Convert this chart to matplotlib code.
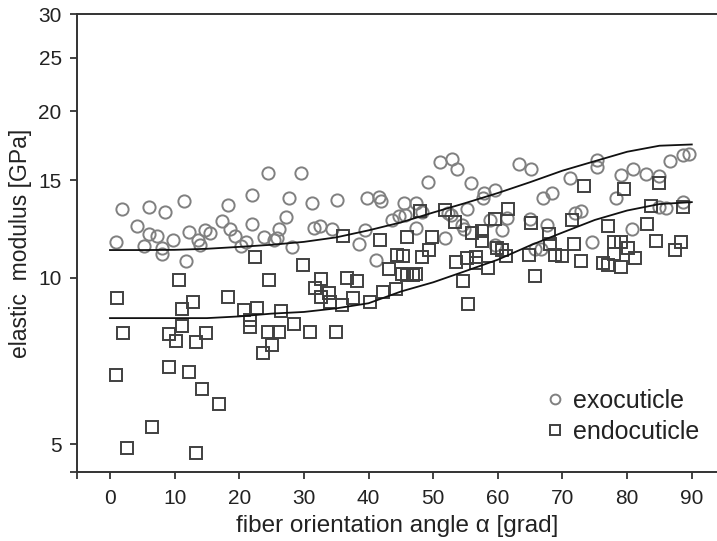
import matplotlib
matplotlib.use("Agg")
import matplotlib.pyplot as plt
from matplotlib.ticker import FixedLocator, FixedFormatter

plt.rcParams['font.family'] = ['Liberation Sans', 'DejaVu Sans']

# DATA
exo_angle = [0.9, 1.8, 4.2, 5.3, 6.1, 6.1, 7.2, 8.0, 8.0, 8.5, 9.8, 11.5, 11.7, 12.3, 13.6,
             13.9, 14.7, 15.4, 17.3, 18.3, 18.5, 19.4, 20.2, 21.1, 21.9, 22.0, 23.9, 24.5,
             25.3, 25.9, 26.2, 27.3, 27.7, 28.1, 29.5, 31.3, 31.6, 32.5, 34.3, 35.1, 38.5,
             39.5, 39.7, 41.6, 41.9, 41.1, 43.6, 44.7, 45.6, 45.5, 47.4, 47.4, 48.2, 49.2,
             51.1, 52.9, 53.7, 51.9, 52.3, 52.8, 54.5, 54.7, 55.2, 55.8, 57.8, 57.7, 59.6,
             58.8, 60.6, 59.6, 61.4, 63.3, 65.1, 65.0, 67.6, 67.0, 68.3, 71.2, 72.0, 72.9,
             74.5, 75.3, 75.3, 78.2, 79.0, 80.7, 80.9, 82.9, 84.9, 85.0, 86.0, 86.7, 88.6,
             89.5, 88.6, 65.7, 66.6]
exo_modulus = [11.61, 13.30, 12.38, 11.39, 13.45, 11.99, 11.90, 11.31, 11.03, 13.16, 11.72,
               13.76, 10.73, 12.12, 11.71, 11.47, 12.19, 12.06, 12.64, 13.55, 12.24, 11.92,
               11.40, 11.60, 14.09, 12.53, 11.84, 15.48, 11.68, 11.79, 12.25, 12.88, 13.93,
               11.38, 15.48, 13.63, 12.32, 12.38, 12.23, 13.85, 11.53, 12.19, 13.92, 14.02,
               13.75, 10.77, 12.70, 12.95, 13.01, 13.63, 13.65, 12.30, 13.15, 14.87, 16.20,
               16.41, 15.76, 11.78, 13.11, 12.99, 12.43, 12.24, 13.30, 14.81, 14.25, 13.94,
               14.39, 12.70, 12.19, 11.48, 12.81, 16.09, 15.75, 12.76, 12.43, 13.92, 14.21,
               15.14, 13.07, 13.19, 11.58, 16.30, 15.86, 13.92, 15.32, 12.24, 15.75, 15.42,
               15.29, 13.41, 13.37, 16.25, 16.64, 16.75, 13.69, 11.26, 11.27]

endo_angle = [1.1, 2.0, 0.9, 2.6, 6.5, 9.2, 9.2, 10.2, 10.7, 11.2,
              11.2, 12.8, 12.3, 13.3, 14.8, 14.2, 16.9, 13.3, 18.3, 20.7,
              22.7, 21.7, 21.7, 22.4, 24.6, 26.4, 24.5, 26.1, 25.0, 23.6,
              28.5, 29.9, 30.9, 35.0, 31.7, 32.6, 32.7, 33.9, 34.0, 35.9,
              36.7, 38.2, 37.6, 36.1, 40.2, 42.2, 44.2, 43.2, 41.8, 45.9,
              49.8, 44.4, 45.3, 48.3, 49.3, 45.1, 46.0, 46.8, 47.3, 48.0,
              51.9, 53.4, 56.0, 57.5, 57.5, 59.6, 53.6, 55.2, 56.6, 56.6,
              58.5, 54.6, 55.4, 59.9, 60.6, 61.2, 61.5, 73.3, 79.5, 85.0,
              83.7, 88.6, 65.1, 71.4, 77.0, 83.0, 67.9, 71.8, 77.9, 79.1,
              80.2, 78.0, 84.4, 88.4, 87.4, 81.2, 79.0, 76.2, 77.1, 72.8,
              68.8, 70.0, 64.8, 65.8, 68.0]
endo_modulus = [9.19, 7.94, 6.68, 4.91, 5.37, 6.89, 7.92, 7.67, 9.92, 8.76,
                8.17, 9.03, 6.75, 7.65, 7.94, 6.28, 5.90, 4.81, 9.24, 8.75,
                8.82, 8.38, 8.13, 10.91, 9.92, 8.70, 7.97, 7.97, 7.57, 7.30,
                8.26, 10.55, 7.98, 7.99, 9.59, 9.95, 9.24, 9.38, 9.03, 8.94,
                9.97, 9.86, 9.17, 11.90, 9.05, 9.41, 9.54, 10.37, 11.72, 11.84,
                11.86, 11.01, 10.96, 10.91, 11.22, 10.15, 10.11, 10.11, 10.15, 13.18,
                13.24, 12.59, 12.07, 12.15, 11.66, 12.76, 10.66, 10.85, 10.88, 10.61,
                10.40, 9.88, 8.97, 11.33, 11.20, 10.93, 13.34, 14.65, 14.49, 14.81,
                13.46, 13.44, 12.55, 12.72, 12.39, 12.53, 12.00, 11.53, 11.58, 11.59,
                11.31, 11.06, 11.66, 11.61, 11.21, 10.85, 10.45, 10.61, 10.55, 10.72,
                11.01, 10.96, 11.01, 10.08, 11.52]

# fitted curves, sampled every 5 degrees
fit_angle = [0, 5, 10, 15, 20, 25, 30, 35, 40, 45, 50, 55, 60, 65, 70, 75, 80, 85, 90]
fit_exo = [11.22, 11.22, 11.23, 11.28, 11.37, 11.47, 11.61, 11.83, 12.18, 12.59,
           13.12, 13.65, 14.23, 14.89, 15.62, 16.25, 16.90, 17.33, 17.42]
fit_endo = [8.45, 8.45, 8.45, 8.45, 8.51, 8.61, 8.67, 8.80, 8.99, 9.44,
            9.81, 10.28, 10.78, 11.44, 12.07, 12.72, 13.23, 13.59, 13.70]

x_ticks = [0, 10, 20, 30, 40, 50, 60, 70, 80, 90]
y_ticks = [5, 10, 15, 20, 25, 30]

fig = plt.figure(figsize=(7.17, 5.41), dpi=100)
ax = fig.add_axes([0.1074, 0.1275, 0.8926, 0.8466])

ax.plot(fit_angle, fit_exo, color='#111111', lw=1.3, zorder=3)
ax.plot(fit_angle, fit_endo, color='#111111', lw=1.3, zorder=3)
ax.plot(exo_angle, exo_modulus, 'o', ms=8.8, mfc='none', mec='#808080', mew=1.4,
        label='exocuticle', zorder=2)
ax.plot(endo_angle, endo_modulus, 's', ms=8.2, mfc='none', mec='#404040', mew=1.4,
        label='endocuticle', zorder=2)

ax.set_yscale('log')
ax.set_xlim(-5.1, 93.9)
ax.set_ylim(4.45, 30)

# ticks at the data positions plus one at each axis start
ax.xaxis.set_major_locator(FixedLocator(x_ticks))
ax.xaxis.set_minor_locator(FixedLocator([-5.1]))
ax.yaxis.set_major_locator(FixedLocator(y_ticks))
ax.yaxis.set_major_formatter(FixedFormatter([str(v) for v in y_ticks]))
ax.yaxis.set_minor_locator(FixedLocator([4.45]))
ax.yaxis.set_minor_formatter(FixedFormatter(['']))

ax.tick_params(which='both', direction='out', length=5, width=1.2, colors='#222222',
               labelsize=15, labelcolor='#222222')
ax.tick_params(axis='x', pad=7)
ax.tick_params(axis='y', pad=6)

for side in ['left', 'bottom', 'top']:
    ax.spines[side].set_color('#333333')
    ax.spines[side].set_linewidth(1.4)
ax.spines['right'].set_visible(False)

ax.set_xlabel('fiber orientation angle α [grad]', fontsize=17.5, color='#222222', labelpad=5)
ax.set_ylabel('elastic  modulus [GPa]', fontsize=16.5, color='#222222')
ax.yaxis.set_label_coords(-0.07, 0.5)

ax.legend(loc='upper left', bbox_to_anchor=(0.712, 0.204), frameon=False, fontsize=18,
          handletextpad=0.22, labelspacing=0.29, borderaxespad=0, handlelength=1.0,
          markerscale=0.8, labelcolor='#222222')

fig.savefig('out.png', dpi=100)
